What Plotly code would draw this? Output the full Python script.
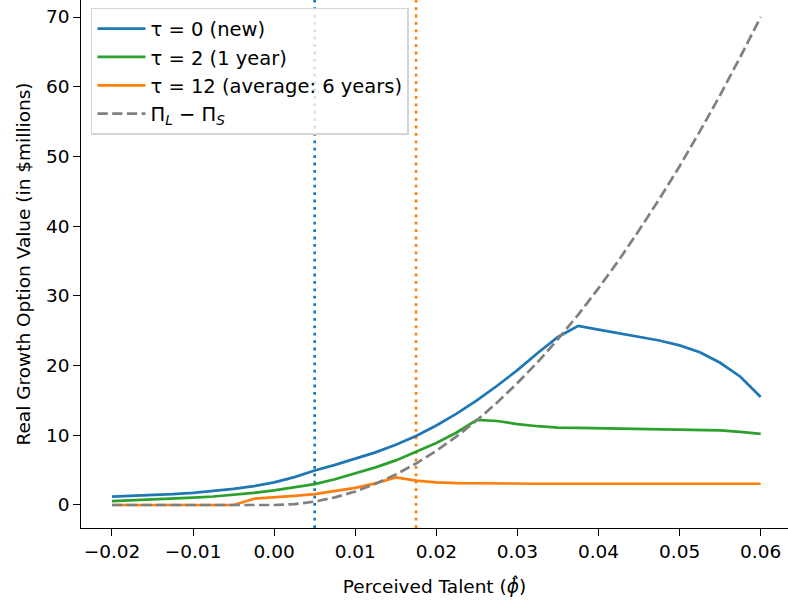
import plotly.graph_objects as go

# ---- data ----
phi = [-0.02, -0.0175, -0.015, -0.0125, -0.01, -0.0075, -0.005, -0.0025,
       0.0, 0.0025, 0.005, 0.0075, 0.01, 0.0125, 0.015, 0.0175,
       0.02, 0.0225, 0.025, 0.0275, 0.03, 0.0325, 0.035, 0.0375,
       0.04, 0.0425, 0.045, 0.0475, 0.05, 0.0525, 0.055, 0.0575, 0.06]

tau0 = [1.2, 1.3, 1.42, 1.56, 1.75, 2.0, 2.3, 2.7,
        3.25, 4.0, 4.95, 5.75, 6.6, 7.55, 8.65, 9.9,
        11.4, 13.1, 15.0, 17.1, 19.35, 21.8, 24.1, 25.7,
        25.15, 24.65, 24.15, 23.6, 22.9, 21.9, 20.4, 18.4, 15.5]

tau2 = [0.55, 0.66, 0.77, 0.9, 1.05, 1.22, 1.45, 1.75,
        2.1, 2.5, 3.0, 3.7, 4.5, 5.4, 6.4, 7.6,
        8.9, 10.4, 12.2, 12.05, 11.6, 11.3, 11.1, 11.05,
        11.0, 10.95, 10.93, 10.9, 10.85, 10.8, 10.7, 10.5, 10.2]

tau12 = [0.0, 0.0, 0.0, 0.0, 0.0, 0.0, 0.0, 0.9,
         1.05, 1.3, 1.55, 1.95, 2.45, 3.1, 3.95, 3.5,
         3.25, 3.15, 3.1, 3.07, 3.05, 3.05, 3.05, 3.05,
         3.05, 3.05, 3.05, 3.05, 3.05, 3.05, 3.05, 3.05, 3.05]

pi_diff = [0.0, 0.0, 0.0, 0.0, 0.0, 0.0, 0.0, 0.0,
           0.0, 0.12, 0.49, 1.09, 1.94, 3.04, 4.38, 5.95,
           7.78, 9.84, 12.15, 14.7, 17.5, 20.5, 23.8, 27.3,
           31.1, 35.1, 39.4, 43.9, 48.6, 53.6, 58.8, 64.3, 70.0]

vline_blue = 0.005
vline_orange = 0.0175

x_ticks = [-0.02, -0.01, 0.0, 0.01, 0.02, 0.03, 0.04, 0.05, 0.06]
y_ticks = [0, 10, 20, 30, 40, 50, 60, 70]

BLUE = "#1f77b4"
GREEN = "#2ca02c"
ORANGE = "#ff7f0e"
GREY = "#808080"
FONT = "DejaVu Sans"
FS = 18.5
LEG_FS = 19.5
LW = 2.7

X_RANGE = [-0.02382, 0.06337]
Y_RANGE = [-3.3, 72.44]

fig = go.Figure()

# vertical dotted markers
for xv, col in [(vline_blue, BLUE), (vline_orange, ORANGE)]:
    fig.add_trace(go.Scatter(x=[xv, xv], y=Y_RANGE, mode="lines",
                             line=dict(color=col, width=LW, dash="2.8px,4.6px"),
                             showlegend=False, hoverinfo="skip"))

fig.add_trace(go.Scatter(x=phi, y=tau0, mode="lines", name="τ = 0 (new)",
                         line=dict(color=BLUE, width=LW), legendgroup="a"))
fig.add_trace(go.Scatter(x=phi, y=tau2, mode="lines", name="τ = 2 (1 year)",
                         line=dict(color=GREEN, width=LW), legendgroup="b"))
fig.add_trace(go.Scatter(x=phi, y=tau12, mode="lines", name="τ = 12 (average: 6 years)",
                         line=dict(color=ORANGE, width=LW), legendgroup="c"))
fig.add_trace(go.Scatter(x=phi, y=pi_diff, mode="lines",
                         name="Π<sub><i>L</i></sub> − Π<sub><i>S</i></sub>",
                         line=dict(color=GREY, width=LW, dash="10.3px,4.4px"), legendgroup="d"))

fig.update_layout(
    width=788, height=607,
    margin=dict(l=81, r=0, t=0, b=79),
    paper_bgcolor="white", plot_bgcolor="white",
    font=dict(family=FONT, size=FS, color="#000000"),
    legend=dict(x=0.0141, y=0.985, xanchor="left", yanchor="top",
                bgcolor="rgba(255,255,255,0.8)", bordercolor="#d5d5d5", borderwidth=1.5,
                font=dict(family=FONT, size=LEG_FS, color="#000000"),
                tracegroupgap=0, itemwidth=48),
    showlegend=True,
)

fig.update_xaxes(range=X_RANGE, tickvals=x_ticks, tickformat=".2f",
                 showline=True, linecolor="black", linewidth=1.4,
                 ticks="outside", ticklen=6.5, tickwidth=1.4, tickcolor="black",
                 showgrid=False, zeroline=False,
                 tickfont=dict(family=FONT, size=FS, color="#000000"),
                 title=dict(text="Perceived Talent (<i>ϕ̂</i>)", standoff=19,
                            font=dict(family=FONT, size=FS, color="#000000")))
fig.update_yaxes(range=Y_RANGE, tickvals=y_ticks,
                 showline=True, linecolor="black", linewidth=1.4,
                 ticks="outside", ticklen=6.5, tickwidth=1.4, tickcolor="black",
                 showgrid=False, zeroline=False,
                 tickfont=dict(family=FONT, size=FS, color="#000000"),
                 title=dict(text="Real Growth Option Value (in $millions)", standoff=10,
                            font=dict(family=FONT, size=FS, color="#000000")))

fig.write_html("out.html")
